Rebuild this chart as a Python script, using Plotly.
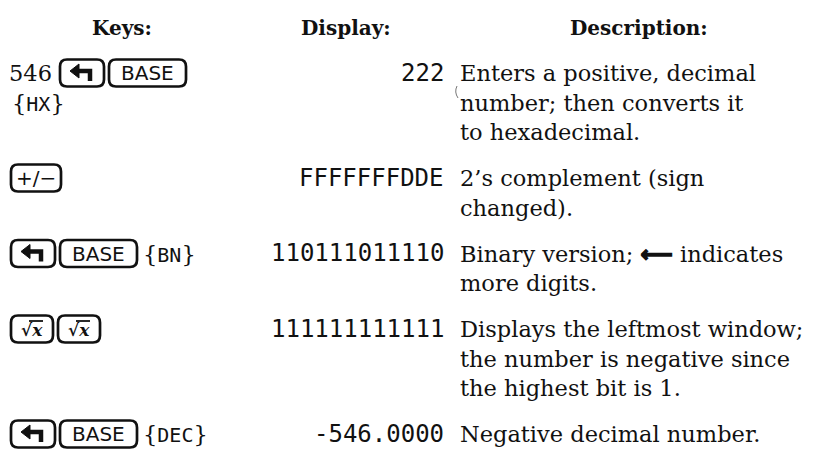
import plotly.graph_objects as go

# ---------------- data ----------------
headers = ["Keys:", "Display:", "Description:"]

key_rows = [
    [("num", "546"), ("key", "SHIFT"), ("key", "BASE"), ("br", ""), ("soft", "HX")],
    [("key", "+/−")],
    [("key", "SHIFT"), ("key", "BASE"), ("soft", "BN")],
    [("key", "SQRT"), ("key", "SQRT")],
    [("key", "SHIFT"), ("key", "BASE"), ("soft", "DEC")],
]

display_values = ["222", "FFFFFFFDDE", "110111011110", "111111111111", "-546.0000"]

descriptions = [
    ["Enters a positive, decimal", "number; then converts it", "to hexadecimal."],
    ["2’s complement (sign", "changed)."],
    ["Binary version; <span style='font-family:DejaVu Sans;font-weight:bold;"
     "stroke:#111111;stroke-width:1.4px'>⟵</span> indicates", "more digits."],
    ["Displays the leftmost window;", "the number is negative since", "the highest bit is 1."],
    ["Negative decimal number."],
]

# ---------------- style ----------------
W, H = 813, 450
INK = "#111111"
SERIF = "DejaVu Serif"
MONO = "DejaVu Sans Mono"
SANS = "DejaVu Sans"
BODY = 22.5
HEAD = 20
LCD = 24
KEYF = 20

header_x = [114, 338, 631]
header_base = 27
first_base = 73
line_h = 29.5
row_gap = 16.5
disp_right = 437
desc_left = 451
key_h = 27
key_w = {"SHIFT": 44, "BASE": 77, "+/−": 50, "SQRT": 42}

fig = go.Figure()
fig.add_trace(go.Scatter(x=[0, W], y=[0, H], mode="markers",
                         marker=dict(opacity=0), hoverinfo="skip", showlegend=False))

annos = []
shapes = []


def text(x, base, s, size, family, xanchor="left", bold=False):
    annos.append(dict(x=x, y=base - 0.34 * size, xref="x", yref="y",
                      text=("<b>%s</b>" % s) if bold else s, showarrow=False,
                      xanchor=xanchor, yanchor="middle",
                      font=dict(family=family, size=size, color=INK),
                      borderpad=0))


def rrect(x0, y0, x1, y1, r=7):
    p = (f"M {x0+r},{y0} L {x1-r},{y0} Q {x1},{y0} {x1},{y0+r} "
         f"L {x1},{y1-r} Q {x1},{y1} {x1-r},{y1} L {x0+r},{y1} "
         f"Q {x0},{y1} {x0},{y1-r} L {x0},{y0+r} Q {x0},{y0} {x0+r},{y0} Z")
    shapes.append(dict(type="path", path=p, xref="x", yref="y",
                       line=dict(color=INK, width=2.7), fillcolor="white", layer="above"))


def shift_glyph(cx, cy):
    shapes.append(dict(type="path", xref="x", yref="y", layer="above",
                       path=f"M {cx+8},{cy+8} L {cx+8},{cy-2} L {cx-4},{cy-2}",
                       line=dict(color=INK, width=4.5)))
    shapes.append(dict(type="path", xref="x", yref="y", layer="above",
                       path=f"M {cx-3},{cy-9} L {cx-12},{cy-2} L {cx-3},{cy+5} Z",
                       line=dict(color=INK, width=1), fillcolor=INK))


# headers
for hx, h in zip(header_x, headers):
    text(hx, header_base, h, HEAD, SERIF, xanchor="center", bold=True)

# rows
base = first_base
for keys, disp, desc in zip(key_rows, display_values, descriptions):
    x = 3
    kb = base
    for kind, label in keys:
        if kind == "br":
            x = 3
            kb += line_h
            continue
        cy = kb - 8
        if kind == "num":
            text(x - 3, kb, label, BODY, SERIF)
            x += 49
        elif kind == "key":
            w = key_w[label]
            rrect(x, cy - key_h / 2, x + w, cy + key_h / 2)
            cx = x + w / 2
            if label == "SHIFT":
                shift_glyph(cx, cy)
            elif label == "SQRT":
                annos.append(dict(x=cx, y=cy + 1, xref="x", yref="y",
                                  text="<b><i>√x</i></b>", showarrow=False,
                                  xanchor="center", yanchor="middle", borderpad=0,
                                  font=dict(family=SERIF, size=17, color=INK)))
                shapes.append(dict(type="line", xref="x", yref="y", layer="above",
                                   x0=cx - 3, x1=cx + 11, y0=cy - 8, y1=cy - 8,
                                   line=dict(color=INK, width=1.8)))
            else:
                annos.append(dict(x=cx, y=cy, xref="x", yref="y", text=label,
                                  showarrow=False, xanchor="center", yanchor="middle",
                                  borderpad=0, font=dict(family=SANS, size=KEYF, color=INK)))
            x += w + 5
        elif kind == "soft":
            s = ("{<span style='font-family:%s;font-size:20px'>%s</span>}" % (MONO, label))
            text(x, kb, s, BODY, SERIF)
    text(disp_right, base, disp, LCD, MONO, xanchor="right")
    for i, line in enumerate(desc):
        text(desc_left, base + i * line_h, line, BODY, SERIF)
    base += len(desc) * line_h + row_gap

# small scan mark left of the first description
shapes.append(dict(type="path", xref="x", yref="y", layer="above",
                   path="M 449,78 Q 446,84 450,90", line=dict(color="#777777", width=1)))

fig.update_layout(
    width=W, height=H, margin=dict(l=0, r=0, t=0, b=0),
    paper_bgcolor="white", plot_bgcolor="white",
    xaxis=dict(range=[0, W], visible=False, fixedrange=True),
    yaxis=dict(range=[H, 0], visible=False, fixedrange=True),
    annotations=annos, shapes=shapes, showlegend=False,
)
fig.write_html("out.html")
